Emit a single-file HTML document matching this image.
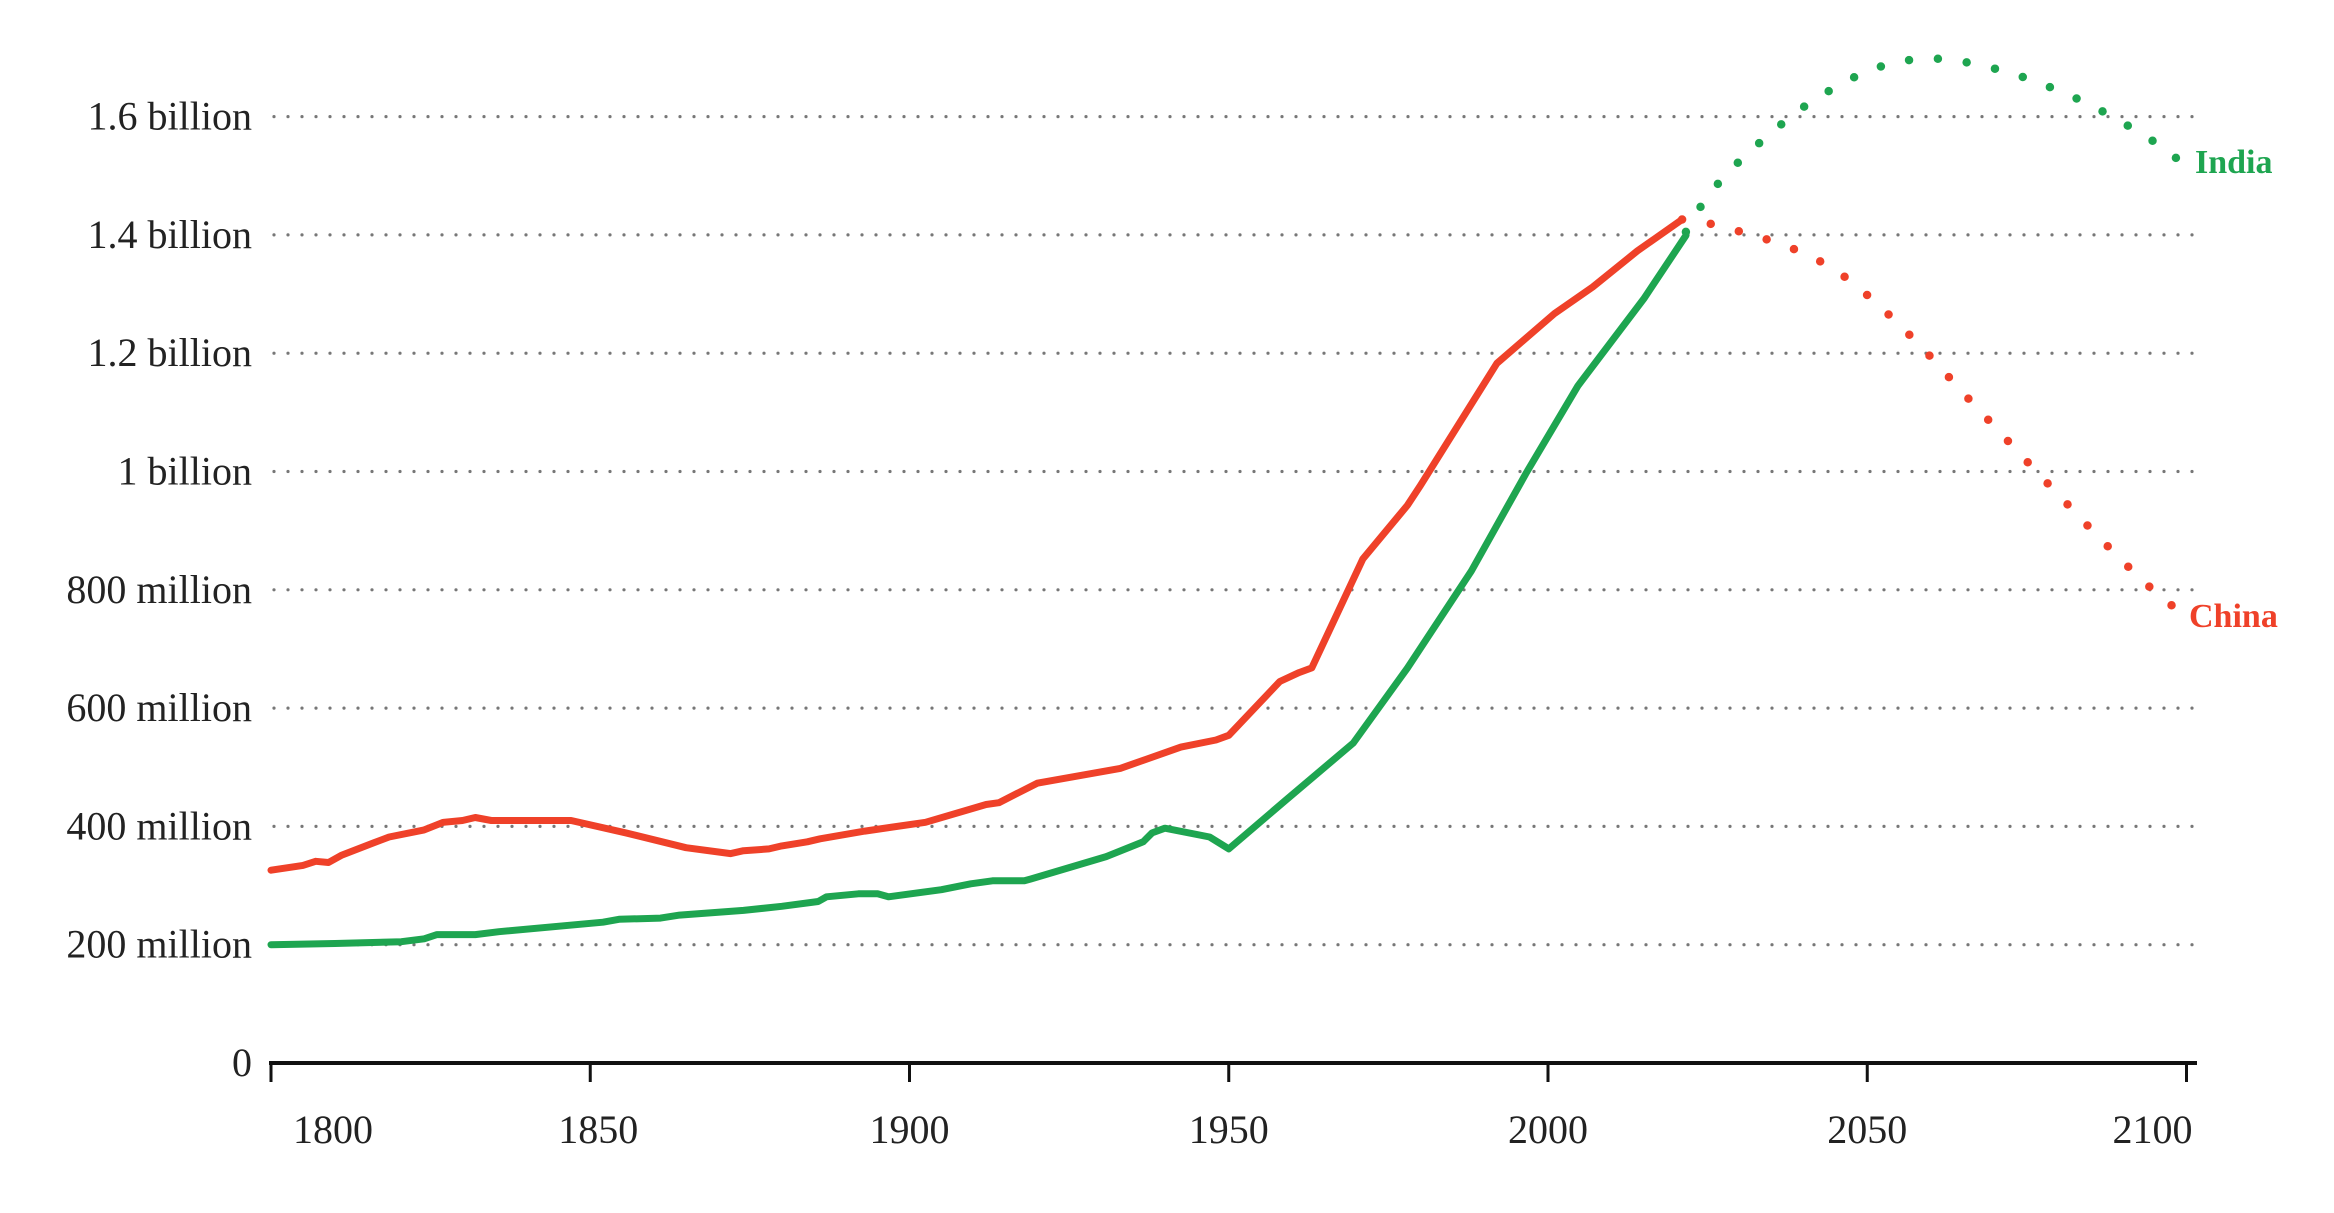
<!DOCTYPE html>
<html><head><meta charset="utf-8"><style>
html,body{margin:0;padding:0;background:#fff;}
svg{display:block;}
text{font-family:"Liberation Serif",serif;}
</style></head><body>
<svg id="chart" width="2334" height="1213" viewBox="0 0 2334 1213" xmlns="http://www.w3.org/2000/svg">
<g id="grid"></g>
<g id="ylabels"></g>
<g id="xaxis"></g>
<g id="series"></g>
<text x="2195" y="173" font-size="34" font-weight="bold" fill="#1ea550">India</text>
<text x="2189" y="627" font-size="34" font-weight="bold" fill="#ef4129">China</text>
</svg>
<script>
const yTicks=[0,200,400,600,800,1000,1200,1400,1600];
const yTickLabels=["0","200 million","400 million","600 million","800 million","1 billion","1.2 billion","1.4 billion","1.6 billion"];
const xTicks=[1800,1850,1900,1950,2000,2050,2100];
const xTickLabels=["1800","1850","1900","1950","2000","2050","2100"];
const chinaYears=[1800,1805,1807,1809,1811,1816,1818.5,1824,1827,1830,1832,1834.5,1847,1855.6,1865,1872,1874,1878,1880,1884,1886,1893,1902.5,1912,1914,1920,1933,1942.5,1948,1950,1958,1961,1963,1971,1978,1980,1992,2001,2007,2014,2021];
const chinaValues=[326,334,341,339,351,372,382,394,407,410,415,410,410,389,364,354,359,362,367,374,379,392,407,437,440,473,498,534,546,554,645,660,668,852,943,976,1183,1267,1312,1373,1426];
const indiaYears=[1800,1810,1820.4,1824,1826,1832,1835.7,1852,1854.5,1861,1864,1874,1880,1885.7,1887,1892,1895,1896.7,1905,1909.6,1913,1918,1919,1930.8,1936.6,1938,1940,1947,1950,1959,1969.5,1978,1988,1996.5,2004.7,2015,2021.6];
const indiaValues=[200,202,205,210,217,217,222,238,243,245,250,258,265,273,281,286,286,281,293,303,308,308,311,349,374,389,397,382,362,445,541,668,832,996,1145,1292,1399];
const chinaProjYears=[2021,2025,2030,2035,2040,2045,2050,2055,2060,2065,2070,2075,2080,2085,2090,2095,2098];
const chinaProjValues=[1426,1420,1406,1390,1370,1342,1298,1249,1193,1133,1075,1017,960,903,848,797,771];
const indiaProjYears=[2021.6,2025,2030,2035,2040,2045,2050,2055,2060,2065,2070,2075,2080,2085,2090,2095,2099];
const indiaProjValues=[1405,1468,1525,1574,1616,1650,1678,1694,1699,1693,1681,1665,1644,1620,1590,1557,1525];

const NS="http://www.w3.org/2000/svg";
const X0=271,PXY=6.385,Y0=1063,PXV=118.3/200;
function x(yr){return X0+(yr-1800)*PXY;}
function y(v){return Y0-v*PXV;}
function mk(tag,attrs,parent){const e=document.createElementNS(NS,tag);for(const k in attrs)e.setAttribute(k,attrs[k]);parent.appendChild(e);return e;}
const grid=document.getElementById('grid'),yl=document.getElementById('ylabels'),xa=document.getElementById('xaxis'),se=document.getElementById('series');
yTicks.forEach((t,i)=>{
  if(t>0){const l=mk('line',{x1:274,x2:2200,y1:y(t),y2:y(t),stroke:'#777','stroke-width':3.2,'stroke-dasharray':'0 14','stroke-linecap':'round'},grid);
  
  }
  const tx=mk('text',{x:252,y:y(t)+13,'text-anchor':'end','font-size':40,fill:'#222'},yl);
  tx.textContent=yTickLabels[i];
  
  
});
const ax=mk('line',{x1:269,x2:2197,y1:Y0,y2:Y0,stroke:'#111','stroke-width':4},xa);


const anchors=['start','middle','middle','middle','middle','middle','end'];
const offs=[22,8,0,0,0,0,6];
xTicks.forEach((t,i)=>{
  const px=Math.min(x(t),2195);
  const tk=mk('line',{x1:px,x2:px,y1:Y0,y2:Y0+19,stroke:'#111','stroke-width':3},xa);
  
  
  const tx=mk('text',{x:px+offs[i],y:1143,'text-anchor':anchors[i],'font-size':40,fill:'#222'},xa);
  tx.textContent=xTickLabels[i];
  
  
});
function pathD(xs,vs){return xs.map((yr,i)=>(i?'L':'M')+x(yr).toFixed(1)+','+y(vs[i]).toFixed(1)).join(' ');}
const cp=mk('path',{d:pathD(chinaProjYears,chinaProjValues),fill:'none',stroke:'#ef4129','stroke-width':8.5,'stroke-linecap':'round','stroke-dasharray':'0 29'},se);


const ip=mk('path',{d:pathD(indiaProjYears,indiaProjValues),fill:'none',stroke:'#1ea550','stroke-width':8.5,'stroke-linecap':'round','stroke-dasharray':'0 29'},se);


const il=mk('path',{d:pathD(indiaYears,indiaValues),fill:'none',stroke:'#1ea550','stroke-width':7,'stroke-linecap':'round','stroke-linejoin':'round'},se);


const cl=mk('path',{d:pathD(chinaYears,chinaValues),fill:'none',stroke:'#ef4129','stroke-width':7,'stroke-linecap':'round','stroke-linejoin':'round'},se);


</script>
</body></html>
